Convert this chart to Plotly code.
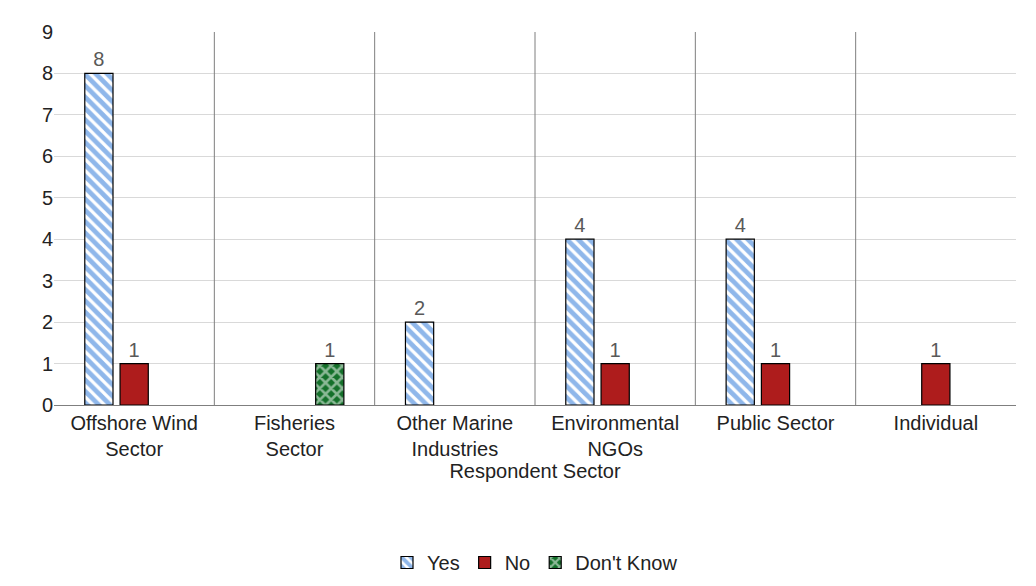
import plotly.graph_objects as go

categories = ["Offshore Wind<br>Sector", "Fisheries<br>Sector", "Other Marine<br>Industries",
              "Environmental<br>NGOs", "Public Sector", "Individual"]
yes_vals = [8, None, 2, 4, 4, None]
no_vals = [1, None, None, 1, 1, 1]
dk_vals = [None, 1, None, None, None, None]


def lbl(vals):
    return ["" if v is None else str(v) for v in vals]


fig = go.Figure()
fig.add_trace(go.Bar(
    x=categories, y=yes_vals, name="Yes", text=lbl(yes_vals), textposition="outside",
    marker=dict(color="white", line=dict(color="black", width=1.2),
                pattern=dict(shape="\\", fgcolor="#1F6FD6", bgcolor="white", size=8, solidity=0.6)),
))
fig.add_trace(go.Bar(
    x=categories, y=no_vals, name="No", text=lbl(no_vals), textposition="outside",
    marker=dict(color="#AE1C1C", line=dict(color="black", width=1.2)),
))
fig.add_trace(go.Bar(
    x=categories, y=dk_vals, name="Don't Know", text=lbl(dk_vals), textposition="outside",
    marker=dict(color="#14702A", line=dict(color="black", width=1.2),
                pattern=dict(shape="x", fgcolor="white", bgcolor="#14702A", size=8, solidity=0.55)),
))

# vertical separators between categories
for i in range(1, len(categories)):
    fig.add_shape(type="line", xref="x", yref="paper", x0=i - 0.5, x1=i - 0.5, y0=0, y1=1,
                  line=dict(color="#7f7f7f", width=1))

fig.update_traces(textfont=dict(size=20, color="#595959"), cliponaxis=False)
fig.update_layout(
    width=1036, height=586,
    plot_bgcolor="white", paper_bgcolor="white",
    font=dict(family="Liberation Sans, Arial", size=20, color="#222"),
    barmode="group", bargap=0.34, bargroupgap=0.2,
    margin=dict(l=46, r=28, t=24, b=180),
    xaxis=dict(title=dict(text="Respondent Sector", font=dict(size=20), standoff=4),
               showline=True, linecolor="#7f7f7f", ticks="", tickfont=dict(size=20, color="#222"),
               range=[-0.5, 5.5], automargin=False),
    yaxis=dict(range=[0, 9], dtick=1, gridcolor="#d9d9d9", zeroline=False,
               tickfont=dict(size=20, color="#222"), ticks="", automargin=False),
    legend=dict(orientation="h", x=0.5, xanchor="center", y=-0.37, yanchor="top",
                font=dict(size=20), itemwidth=30, tracegroupgap=0),
)

fig.write_html("out.html")
